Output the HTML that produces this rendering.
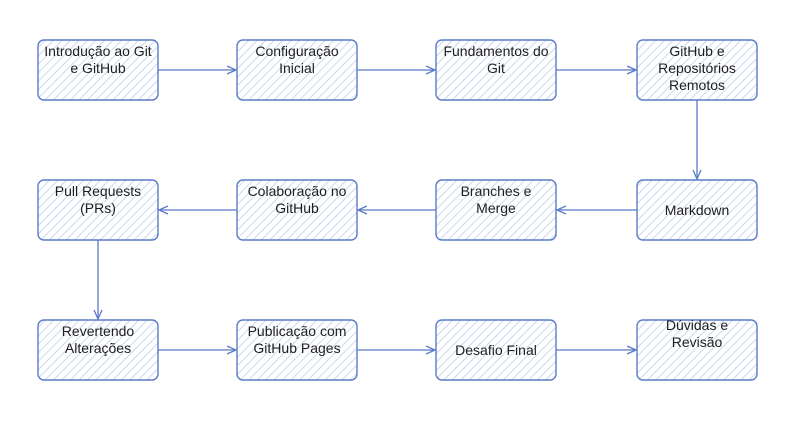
<!DOCTYPE html>
<html><head><meta charset="utf-8"><style>
html,body{margin:0;padding:0;background:#fff;}
svg{display:block;}
text{font-family:"Liberation Sans",sans-serif;font-size:14px;fill:#1e1e1e;text-anchor:middle;}
</style></head><body>
<svg width="801" height="425" viewBox="0 0 801 425" xmlns="http://www.w3.org/2000/svg">
<defs>
<pattern id="h" patternUnits="userSpaceOnUse" width="6" height="6" patternTransform="rotate(45)">
<rect width="6" height="6" fill="#fff"/>
<line x1="0" y1="0" x2="0" y2="6" stroke="#c5d3f0" stroke-width="1.8"/>
</pattern>
<marker id="a" markerWidth="10" markerHeight="10" refX="9" refY="5" orient="auto" markerUnits="userSpaceOnUse">
<path d="M0,1 L9,5 L0,9" fill="none" stroke="#5b7bc8" stroke-width="1.3"/>
</marker>
</defs>
<g stroke="#5b7bc8" stroke-width="1.4" fill="url(#h)">
<rect x="38" y="40" width="120" height="60" rx="6"/>
<rect x="237" y="40" width="120" height="60" rx="6"/>
<rect x="436" y="40" width="120" height="60" rx="6"/>
<rect x="637" y="40" width="120" height="60" rx="6"/>
<rect x="38" y="180" width="120" height="60" rx="6"/>
<rect x="237" y="180" width="120" height="60" rx="6"/>
<rect x="436" y="180" width="120" height="60" rx="6"/>
<rect x="637" y="180" width="120" height="60" rx="6"/>
<rect x="38" y="320" width="120" height="60" rx="6"/>
<rect x="237" y="320" width="120" height="60" rx="6"/>
<rect x="436" y="320" width="120" height="60" rx="6"/>
<rect x="637" y="320" width="120" height="60" rx="6"/>
</g>
<g stroke="#5b7bc8" stroke-width="1.3" fill="none" marker-end="url(#a)">
<line x1="158" y1="70" x2="236" y2="70"/>
<line x1="357" y1="70" x2="435" y2="70"/>
<line x1="556" y1="70" x2="636" y2="70"/>
<line x1="697" y1="100" x2="697" y2="179"/>
<line x1="637" y1="210" x2="557" y2="210"/>
<line x1="436" y1="210" x2="358" y2="210"/>
<line x1="237" y1="210" x2="159" y2="210"/>
<line x1="98" y1="240" x2="98" y2="319"/>
<line x1="158" y1="350" x2="236" y2="350"/>
<line x1="357" y1="350" x2="435" y2="350"/>
<line x1="556" y1="350" x2="636" y2="350"/>
</g>
<text x="98" y="56">Introdução ao Git</text><text x="98" y="73">e GitHub</text>
<text x="297" y="56">Configuração</text><text x="297" y="73">Inicial</text>
<text x="496" y="56">Fundamentos do</text><text x="496" y="73">Git</text>
<text x="697" y="56">GitHub e</text><text x="697" y="73">Repositórios</text><text x="697" y="90">Remotos</text>
<text x="98" y="196">Pull Requests</text><text x="98" y="213">(PRs)</text>
<text x="297" y="196">Colaboração no</text><text x="297" y="213">GitHub</text>
<text x="496" y="196">Branches e</text><text x="496" y="213">Merge</text>
<text x="697" y="215">Markdown</text>
<text x="98" y="336">Revertendo</text><text x="98" y="353">Alterações</text>
<text x="297" y="336">Publicação com</text><text x="297" y="353">GitHub Pages</text>
<text x="496" y="355">Desafio Final</text>
<text x="697" y="330">Dúvidas e</text><text x="697" y="347">Revisão</text>
</svg>
</body></html>
